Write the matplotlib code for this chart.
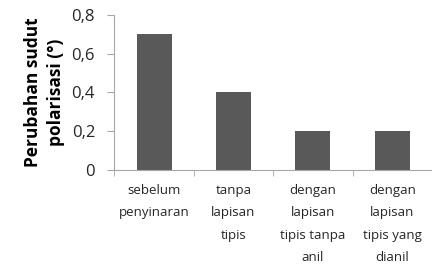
import numpy as np
import matplotlib
matplotlib.use('agg')
import matplotlib.pyplot as plt

labels = ['sebelum\npenyinaran', 'tanpa\nlapisan\ntipis', 'dengan\nlapisan\ntipis tanpa\nanil',
          'dengan\nlapisan\ntipis yang\ndianil']
values = [0.7, 0.4, 0.2, 0.2]
yticks = [0, 0.2, 0.4, 0.6, 0.8]
ytick_labels = ['0', '0,2', '0,4', '0,6', '0,8']

plt.rcParams['font.family'] = ['Open Sans', 'DejaVu Sans']

fig = plt.figure(figsize=(4.32, 2.64), dpi=100)
ax = fig.add_axes([0.265, 0.356, 0.735, 0.588])

x = np.arange(len(values))
ax.bar(x, values, width=0.44, color='#595959')
ax.set_xlim(-0.5, len(values) - 0.5)
ax.set_ylim(0, 0.8)
ax.set_yticks(yticks)
ax.set_yticklabels(ytick_labels, fontsize=12, color='#262626')
ax.set_xticks(x)
ax.set_xticklabels(labels, fontsize=9.5, linespacing=1.95, va='top', color='#262626')
ax.tick_params(axis='x', length=0, pad=10)
ax.set_xticks(np.arange(len(values) + 1) - 0.5, minor=True)
ax.tick_params(axis='x', which='minor', length=4, color='#a6a6a6')
ax.tick_params(axis='y', length=5, color='#a6a6a6', pad=9)

for s in ['top', 'right']:
    ax.spines[s].set_visible(False)
for s in ['left', 'bottom']:
    ax.spines[s].set_color('#a6a6a6')

ax.set_ylabel('Perubahan sudut\npolarisasi (°)', fontsize=12.5, fontweight='bold',
              linespacing=1.3, labelpad=5)

fig.savefig('out.png', dpi=100)
